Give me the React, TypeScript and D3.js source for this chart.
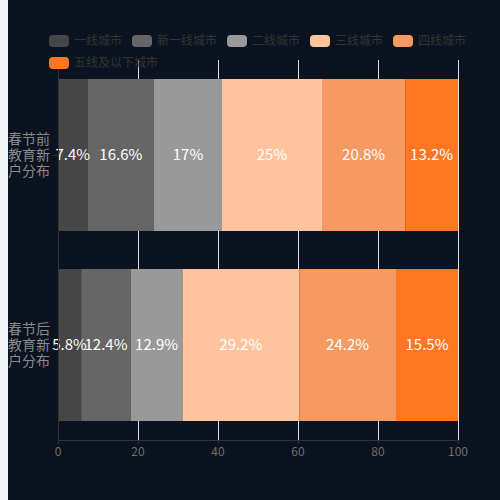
import React from 'react';
import * as d3 from 'd3';

const categories = ['春节前', '春节后'];
const categoryLines = [
  ['春节前', '教育新', '户分布'],
  ['春节后', '教育新', '户分布'],
];
const seriesNames = ['一线城市', '新一线城市', '二线城市', '三线城市', '四线城市', '五线及以下城市'];
const seriesColors = ['#464646', '#666666', '#999999', '#ffc39e', '#f59a60', '#ff7722'];
const beforeValues = [7.4, 16.6, 17, 25, 20.8, 13.2];
const afterValues = [5.8, 12.4, 12.9, 29.2, 24.2, 15.5];
const xTicks = [0, 20, 40, 60, 80, 100];

const W = 492;
const H = 500;
const margin = { top: 60, right: 42, bottom: 60, left: 50 };

const App: React.FC = () => {
  const rows = categories.map((c, i) => {
    const vals = i === 0 ? beforeValues : afterValues;
    const row: any = { category: c };
    seriesNames.forEach((s, j) => (row[s] = vals[j]));
    return row;
  });

  const stacked = d3.stack<any>().keys(seriesNames)(rows);

  const x = d3.scaleLinear().domain([0, 100]).range([margin.left, W - margin.right]);
  const y = d3
    .scaleBand<string>()
    .domain(categories)
    .range([margin.top, H - margin.bottom])
    .paddingInner(0.2)
    .paddingOuter(0.1);

  const font = '"Noto Sans CJK SC", "Noto Sans", sans-serif';

  // legend layout, 12px text, wraps at the right edge
  const legendItems: { name: string; color: string; x: number; y: number }[] = [];
  let lx = 41;
  let ly = 41;
  seriesNames.forEach((name, i) => {
    const w = 20 + 5 + name.length * 12;
    if (lx + w > W - 20) {
      lx = 41;
      ly += 22;
    }
    legendItems.push({ name, color: seriesColors[i], x: lx, y: ly });
    lx += w + 10;
  });

  const axisY = H - margin.bottom;

  return (
    <>
      <div style={{ position: 'fixed', inset: 0, background: '#f1f3f7' }} />
      <div style={{ position: 'absolute', left: 8, top: 0, width: W, height: H }}>
        <svg width={W} height={H} style={{ display: 'block', background: '#0b1320', fontFamily: font }}>
          {/* grid */}
          {xTicks.map((t) => (
            <line
              key={t}
              x1={x(t) + 0.5}
              x2={x(t) + 0.5}
              y1={margin.top}
              y2={axisY}
              stroke="#e0e0e0"
              strokeWidth={1}
              shapeRendering="crispEdges"
            />
          ))}

          {/* bars */}
          {stacked.map((layer, si) => (
            <g key={layer.key} fill={seriesColors[si]}>
              {layer.map((d, ci) => (
                <rect
                  key={ci}
                  x={x(d[0])}
                  y={y(d.data.category)}
                  width={x(d[1]) - x(d[0])}
                  height={y.bandwidth()}
                />
              ))}
            </g>
          ))}

          {/* bar labels */}
          {stacked.map((layer) =>
            layer.map((d, ci) => (
              <text
                key={layer.key + ci}
                x={(x(d[0]) + x(d[1])) / 2}
                y={(y(d.data.category) as number) + y.bandwidth() / 2}
                dy="0.35em"
                textAnchor="middle"
                fill="#ffffff"
                fontSize={15}
              >
                {`${d.data[layer.key]}%`}
              </text>
            ))
          )}

          {/* y axis */}
          <line
            x1={x(0) + 0.5}
            x2={x(0) + 0.5}
            y1={margin.top}
            y2={axisY}
            stroke="#333"
            shapeRendering="crispEdges"
          />
          {categories.map((c, i) => {
            const cy = (y(c) as number) + y.bandwidth() / 2;
            return (
              <g key={c}>
                <line x1={x(0) - 5} x2={x(0)} y1={cy + 0.5} y2={cy + 0.5} stroke="#333" shapeRendering="crispEdges" />
                {categoryLines[i].map((line, k) => (
                  <text
                    key={k}
                    x={x(0) - 8}
                    y={cy + (k - 1) * 16}
                    dy="0.35em"
                    textAnchor="end"
                    fill="#8a8a8a"
                    fontSize={14}
                  >
                    {line}
                  </text>
                ))}
              </g>
            );
          })}

          {/* x axis */}
          <line
            x1={x(0)}
            x2={x(100) + 1}
            y1={axisY + 0.5}
            y2={axisY + 0.5}
            stroke="#333"
            shapeRendering="crispEdges"
          />
          {xTicks.map((t) => (
            <g key={t}>
              <line
                x1={x(t) + 0.5}
                x2={x(t) + 0.5}
                y1={axisY}
                y2={axisY + 4}
                stroke="#333"
                shapeRendering="crispEdges"
              />
              <text x={x(t)} y={axisY + 12} dy="0.35em" textAnchor="middle" fill="#6e6e6e" fontSize={12}>
                {t}
              </text>
            </g>
          ))}

          {/* legend */}
          {legendItems.map((it) => (
            <g key={it.name}>
              <rect x={it.x} y={it.y - 6} width={20} height={12} rx={4} fill={it.color} />
              <text x={it.x + 25} y={it.y} dy="0.35em" fill="#333" fontSize={12}>
                {it.name}
              </text>
            </g>
          ))}
        </svg>
      </div>
    </>
  );
};

export default App;
